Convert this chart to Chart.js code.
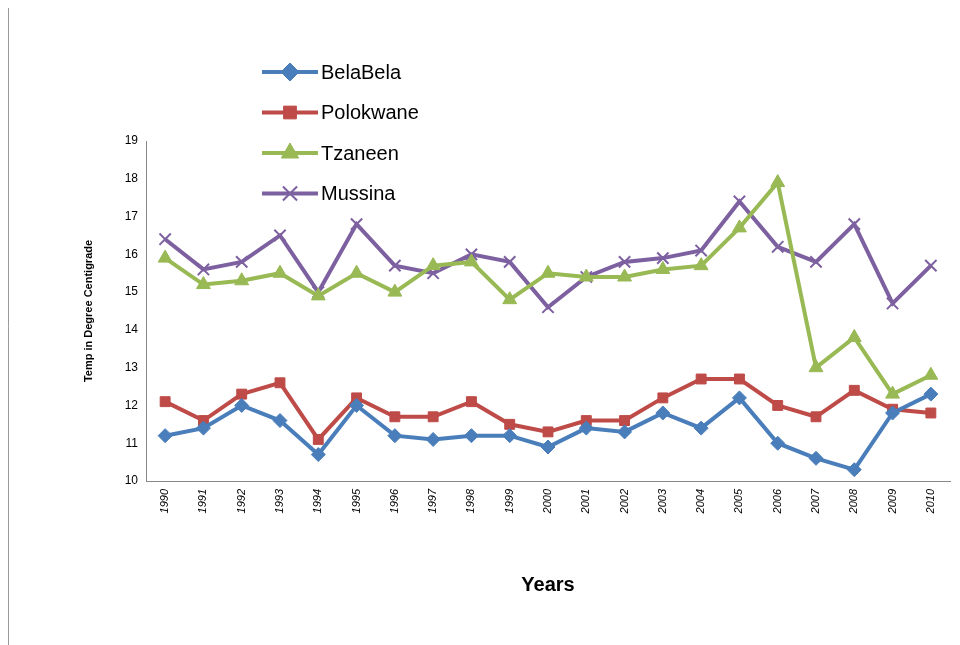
<!DOCTYPE html>
<html>
<head>
<meta charset="utf-8">
<script src="https://cdn.jsdelivr.net/npm/chart.js@4"></script>
<style>
  body { margin: 0; background: #fff; }
  #wrap { width: 960px; height: 645px; position: relative; }
</style>
</head>
<body>
<div id="wrap"><canvas id="chart"></canvas></div>
<script>
// Data
const years = ["1990","1991","1992","1993","1994","1995","1996","1997","1998","1999","2000",
               "2001","2002","2003","2004","2005","2006","2007","2008","2009","2010"];
const belaBela  = [11.2,11.4,12.0,11.6,10.7,12.0,11.2,11.1,11.2,11.2,10.9,11.4,11.3,11.8,11.4,12.2,11.0,10.6,10.3,11.8,12.3];
const polokwane = [12.1,11.6,12.3,12.6,11.1,12.2,11.7,11.7,12.1,11.5,11.3,11.6,11.6,12.2,12.7,12.7,12.0,11.7,12.4,11.9,11.8];
const tzaneen   = [15.9,15.2,15.3,15.5,14.9,15.5,15.0,15.7,15.8,14.8,15.5,15.4,15.4,15.6,15.7,16.7,17.9,13.0,13.8,12.3,12.8];
const mussina   = [16.4,15.6,15.8,16.5,15.0,16.8,15.7,15.5,16.0,15.8,14.6,15.4,15.8,15.9,16.1,17.4,16.2,15.8,16.8,14.7,15.7];

function series(label, data, color, style, radius){
    return {
        label: label, data: data,
        borderColor: color, backgroundColor: color,
        pointBackgroundColor: color, pointBorderColor: color,
        pointStyle: style, pointRadius: radius, pointBorderWidth: style === 'crossRot' ? 2 : 1,
        borderWidth: 4, tension: 0
    };
}

//Legend drawn inside the plot, top-left, like the original
const legendPlugin = {
    id: 'innerLegend',
    afterDraw(chart){
        const ctx = chart.ctx;
        ctx.save();
        // left frame line
        ctx.strokeStyle = '#999'; ctx.lineWidth = 1;
        ctx.beginPath(); ctx.moveTo(8.5, 645); ctx.lineTo(8.5, 8); ctx.stroke();
        chart.data.datasets.forEach(function(ds, i){
            const y = 72 + i * 40.5;
            ctx.strokeStyle = ds.borderColor; ctx.lineWidth = 4;
            ctx.beginPath(); ctx.moveTo(262, y); ctx.lineTo(318, y); ctx.stroke();
            ctx.fillStyle = ds.borderColor;
            ctx.strokeStyle = ds.borderColor;
            ctx.lineWidth = ds.pointBorderWidth;
            Chart.helpers.drawPoint(ctx, {
                pointStyle: ds.pointStyle, radius: ds.pointRadius + 2, borderWidth: ds.pointBorderWidth
            }, 290, y);
            ctx.fillStyle = '#000';
            ctx.font = '20px "Liberation Sans", Arial, sans-serif';
            ctx.textBaseline = 'middle';
            ctx.fillText(ds.label, 321, y + 1);
        });
        ctx.restore();
    }
};

const config = {
    type: 'line',
    data: {
        labels: years,
        datasets: [
            series('BelaBela', belaBela, '#4a7ebb', 'rectRot', 7),
            series('Polokwane', polokwane, '#be4b48', 'rect', 7),
            series('Tzaneen', tzaneen, '#98b954', 'triangle', 8),
            series('Mussina', mussina, '#7d60a0', 'crossRot', 8)
        ]
    },
    options: {
        responsive: true,
        maintainAspectRatio: false,
        animation: false,
        layout: { padding: { left: 78, top: 141, right: 4, bottom: 44 } },
        scales: {
            x: {
                offset: true,
                grid: { display: false, drawTicks: true, tickLength: 5, color: '#888' },
                border: { color: '#888' },
                ticks: { color: '#000', minRotation: 90, maxRotation: 90,
                         font: { size: 11, style: 'italic', family: 'Liberation Sans' } },
                title: { display: true, text: 'Years', color: '#000',
                         font: { size: 20, weight: 'bold', family: 'Liberation Sans' } },
                afterFit(scale){ scale.height = 120; }
            },
            y: {
                min: 10, max: 19,
                grid: { display: false, drawTicks: true, tickLength: 5, color: '#888' },
                border: { color: '#888' },
                ticks: { stepSize: 1, color: '#000', font: { size: 12, family: 'Liberation Sans' } },
                title: { display: true, text: 'Temp in Degree Centigrade', color: '#000',
                         font: { size: 11, weight: 'bold', family: 'Liberation Sans' } },
                afterFit(scale){ scale.width = 68; }
            }
        },
        plugins: { legend: { display: false }, tooltip: { enabled: false } }
    },
    plugins: [legendPlugin]
};

new Chart(document.getElementById('chart').getContext('2d'), config);
</script>
</body>
</html>
